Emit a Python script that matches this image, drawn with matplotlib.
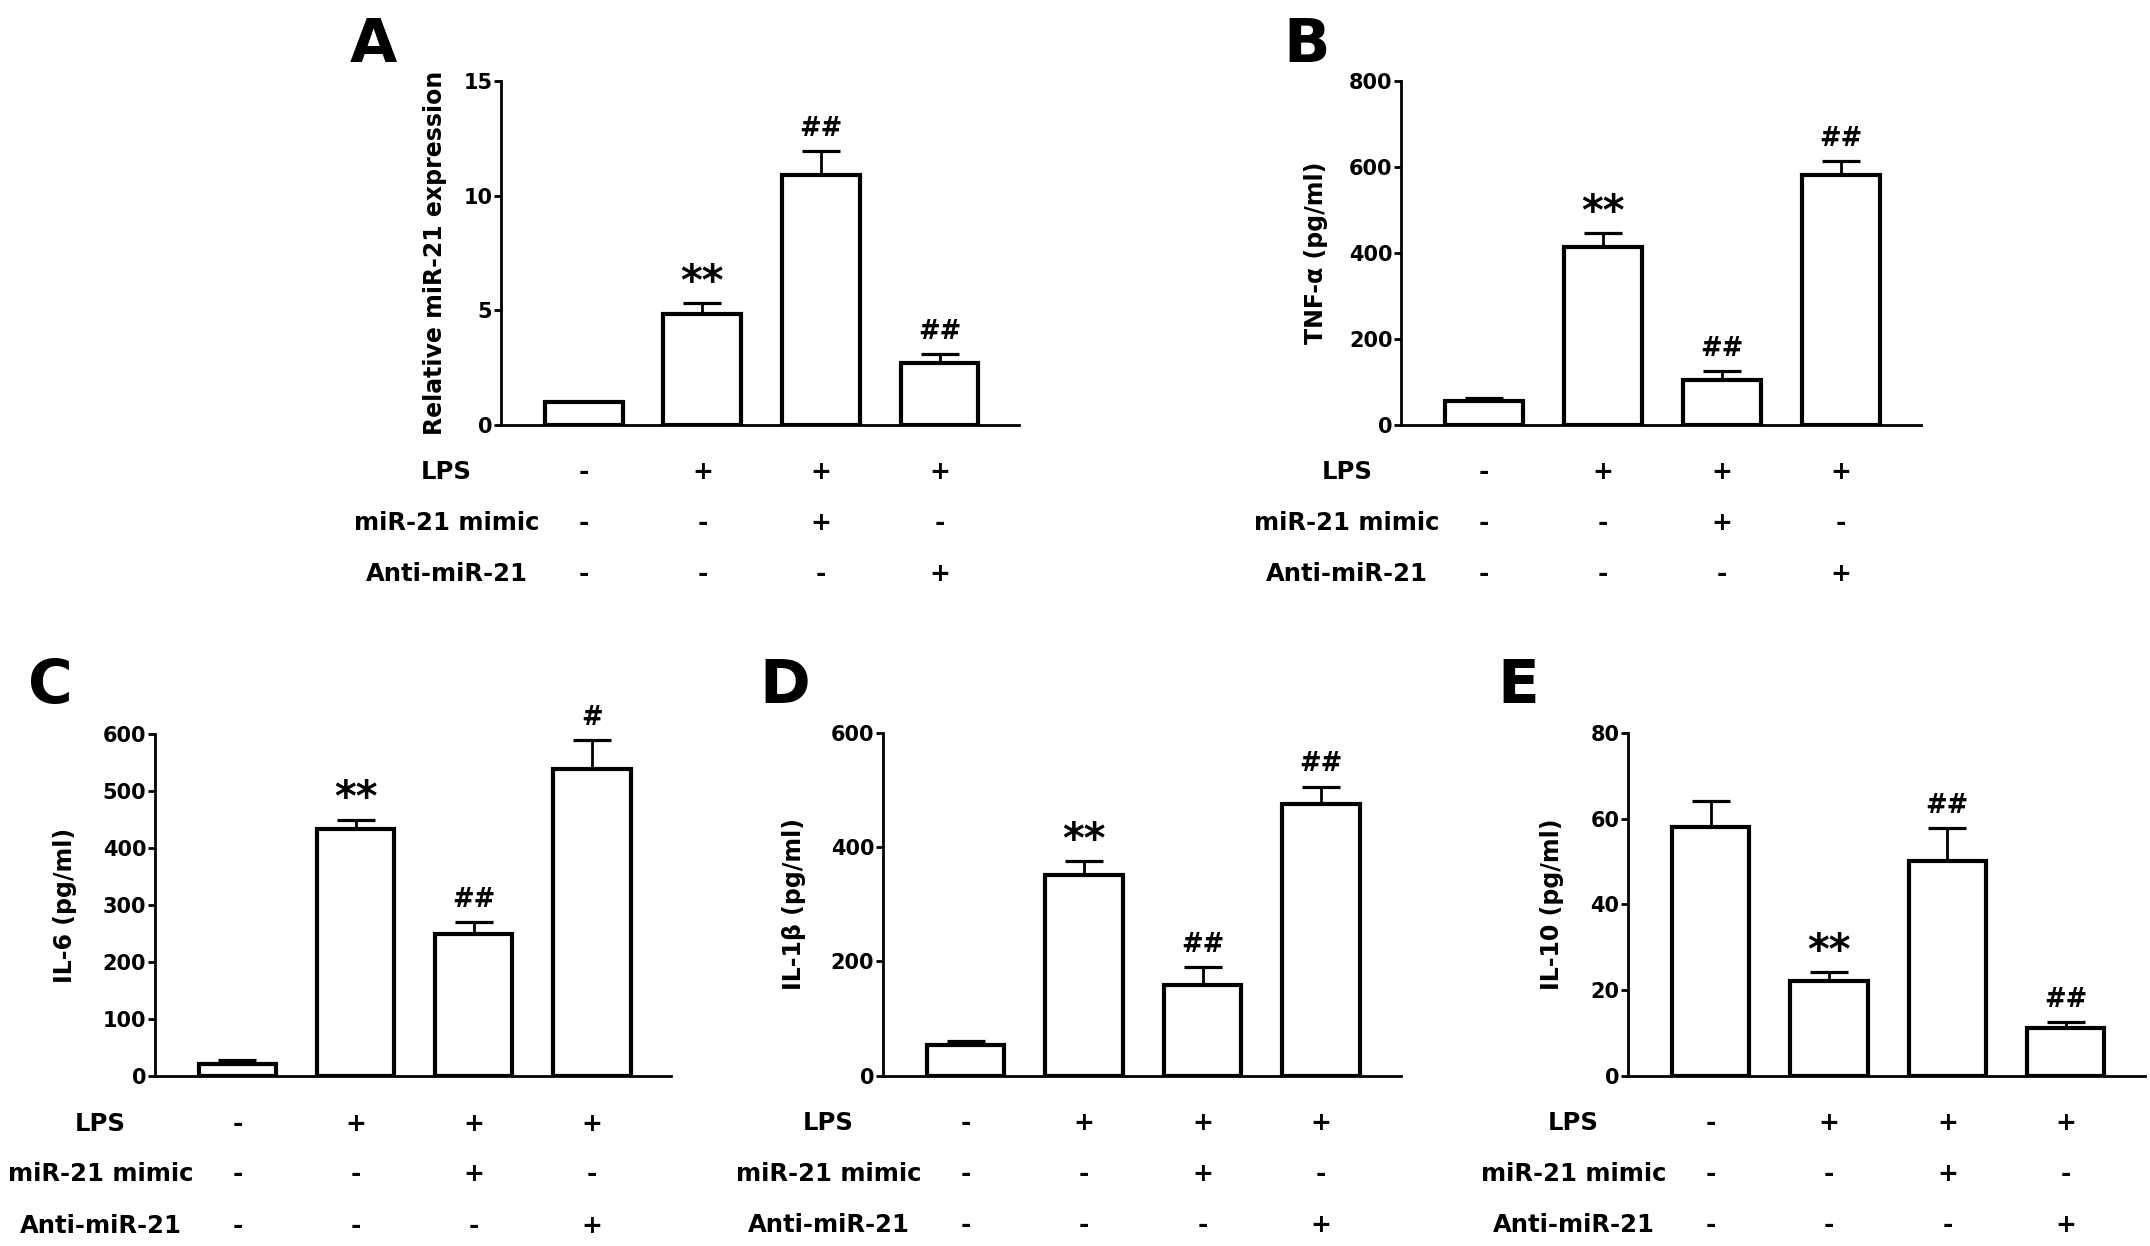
import matplotlib
matplotlib.use('Agg')
import matplotlib.pyplot as plt

# --- data ---
lps = ['-', '+', '+', '+']
mimic = ['-', '-', '+', '-']
anti = ['-', '-', '-', '+']
row_names = ['LPS', 'miR-21 mimic', 'Anti-miR-21']

mir21_mean = [1.0, 4.82, 10.9, 2.71]
mir21_sem = [0.0, 0.49, 1.05, 0.37]
mir21_marks = ['', '**', '##', '##']

tnf_mean = [56, 414, 105, 581]
tnf_sem = [7, 32, 20, 33]
tnf_marks = ['', '**', '##', '##']

il6_mean = [22, 434, 249, 539]
il6_sem = [6, 16, 21, 50]
il6_marks = ['', '**', '##', '#']

il1b_mean = [53, 352, 159, 476]
il1b_sem = [8, 24, 31, 30]
il1b_marks = ['', '**', '##', '##']

il10_mean = [58.1, 22.2, 50.2, 11.1]
il10_sem = [6.1, 1.9, 7.6, 1.4]
il10_marks = ['', '**', '##', '##']

W, H = 2150, 1246
plt.rcParams['font.family'] = ['DejaVu Sans']
plt.rcParams['font.weight'] = 'bold'


def px_axes(fig, left, right, top, bottom):
    """Add axes from pixel box of the original image."""
    return fig.add_axes([left / W, 1 - bottom / H, (right - left) / W, (bottom - top) / H])


def draw_panel(ax, mean, sem, marks, yticks, ylabel, label_gap, width_px):
    x = list(range(len(mean)))
    ax.bar(x, mean, width=0.655, color='white', edgecolor='black', linewidth=3.0, zorder=2)
    ax.errorbar(x, mean, yerr=[[0] * len(sem), sem], fmt='none', ecolor='black',
                elinewidth=2.0, capsize=14, capthick=2.3, zorder=1)
    for xi, m, s, mk in zip(x, mean, sem, marks):
        if not mk:
            continue
        star = '*' in mk
        ax.annotate(mk, xy=(xi, m + s), xytext=(0, 6 if star else 11),
                    textcoords='offset points', ha='center', va='baseline',
                    fontsize=30 if star else 18.5, fontweight='bold')

    ax.set_xlim(-0.7, 3.67)
    ax.set_ylim(yticks[0], yticks[-1])
    ax.set_yticks(yticks)
    ax.set_xticks([])
    for side in ('top', 'right'):
        ax.spines[side].set_visible(False)
    for side in ('left', 'bottom'):
        ax.spines[side].set_linewidth(2.0)
    ax.tick_params(axis='y', length=5, width=2.0, pad=1, labelsize=15)
    ax.set_ylabel(ylabel, fontsize=17, fontweight='bold')
    ax.yaxis.set_label_coords(-label_gap / width_px, 0.5)

    # treatment table under the bars
    for row, (name, signs) in enumerate(zip(row_names, [lps, mimic, anti])):
        dy = [34, 70.5, 107.5][row]
        ax.annotate(name, xy=(0, 0), xycoords='axes fraction', xytext=(-39, -dy),
                    textcoords='offset points', ha='center', va='center',
                    fontsize=17.5, fontweight='bold', annotation_clip=False)
        for xi, sg in zip(x, signs):
            ax.annotate(sg, xy=(xi, 0), xycoords=('data', 'axes fraction'), xytext=(0, -dy),
                        textcoords='offset points', ha='center', va='center',
                        fontsize=18, fontweight='bold', annotation_clip=False)


fig = plt.figure(figsize=(W / 100, H / 100), dpi=100)

panels = [
    ('A', (500.7, 1019, 81.3, 424.7), (350, 62), 54, mir21_mean, mir21_sem, mir21_marks,
     [0, 5, 10, 15], 'Relative miR-21 expression'),
    ('B', (1401, 1921, 81.3, 424.7), (1283, 62), 73, tnf_mean, tnf_sem, tnf_marks,
     [0, 200, 400, 600, 800], 'TNF-α (pg/ml)'),
    ('C', (154.7, 671, 733.9, 1076.4), (28, 703), 78, il6_mean, il6_sem, il6_marks,
     [0, 100, 200, 300, 400, 500, 600], 'IL-6 (pg/ml)'),
    ('D', (882.6, 1400.5, 733, 1075.6), (759, 703), 77, il1b_mean, il1b_sem, il1b_marks,
     [0, 200, 400, 600], 'IL-1β (pg/ml)'),
    ('E', (1627.8, 2145, 733, 1075.6), (1497, 703), 64, il10_mean, il10_sem, il10_marks,
     [0, 20, 40, 60, 80], 'IL-10 (pg/ml)'),
]

for letter, box, lpos, gap, mean, sem, marks, yticks, ylabel in panels:
    ax = px_axes(fig, *box)
    draw_panel(ax, mean, sem, marks, yticks, ylabel, gap, box[1] - box[0])
    fig.text(lpos[0] / W, 1 - lpos[1] / H, letter, ha='left', va='baseline',
             fontsize=44, fontweight='bold')

fig.savefig('out.png', dpi=100)
